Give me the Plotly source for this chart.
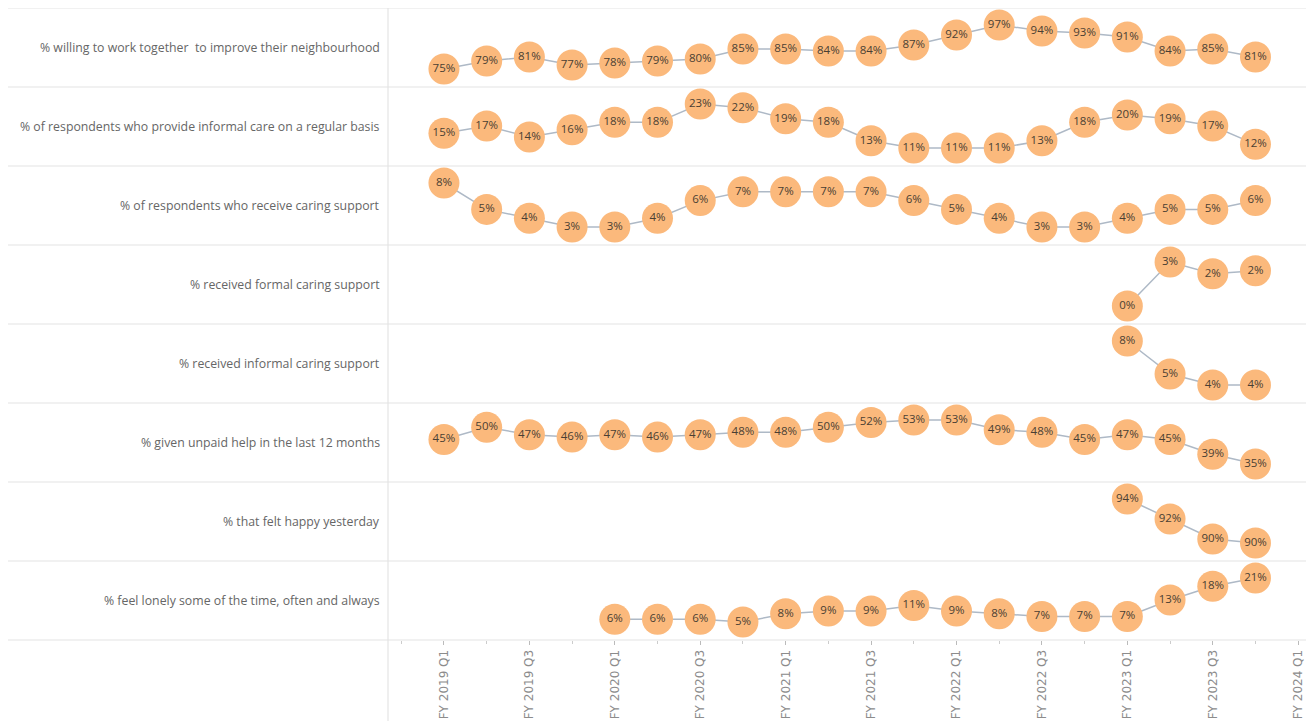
import plotly.graph_objects as go
from plotly.subplots import make_subplots

# ---- data ----
quarters = [f"FY {y} Q{q}" for y in range(2019, 2024) for q in range(1, 5)] + ["FY 2024 Q1"]

measures = [
    "% willing to work together  to improve their neighbourhood",
    "% of respondents who provide informal care on a regular basis",
    "% of respondents who receive caring support",
    "% received formal caring support",
    "% received informal caring support",
    "% given unpaid help in the last 12 months",
    "% that felt happy yesterday",
    "% feel lonely some of the time, often and always",
]

willing_work = [75, 79, 81, 77, 78, 79, 80, 85, 85, 84, 84, 87, 92, 97, 94, 93, 91, 84, 85, 81]
provide_care = [15, 17, 14, 16, 18, 18, 23, 22, 19, 18, 13, 11, 11, 11, 13, 18, 20, 19, 17, 12]
receive_support = [8, 5, 4, 3, 3, 4, 6, 7, 7, 7, 7, 6, 5, 4, 3, 3, 4, 5, 5, 6]
formal_support = [0, 3, 2.2, 2.4]
informal_support = [8, 5, 4, 4]
unpaid_help = [45, 50, 47, 46, 47, 46, 47, 48, 48, 50, 52, 53, 53, 49, 48, 45, 47, 45, 39, 35]
happy = [94, 92, 90, 89.6]
lonely = [6, 6, 6, 5, 8, 9, 9, 11, 9, 8, 7, 7, 7, 13, 18, 21]

series_values = [willing_work, provide_care, receive_support, formal_support,
                 informal_support, unpaid_help, happy, lonely]
# each series ends at FY 2023 Q4
end_index = quarters.index("FY 2023 Q4")

tick_labels = [q for q in quarters if q.endswith("Q1") or q.endswith("Q3")]

# ---- figure ----
W, H = 1306, 713
n = len(measures)
fig = make_subplots(rows=n, cols=1, shared_xaxes=True, vertical_spacing=0)

MARKER = "#FBB97C"
LINE = "#AEB9C6"
FONT = "Open Sans, Lato, sans-serif"

for i, (name, vals) in enumerate(zip(measures, series_values), start=1):
    start = end_index - len(vals) + 1
    xs = list(range(start, end_index + 1))
    fig.add_trace(go.Scatter(
        x=xs, y=vals, mode="lines+markers+text",
        text=[f"{round(v):.0f}%" for v in vals],
        textposition="middle center",
        textfont=dict(family=FONT, size=11.5, color="#4a3f33"),
        line=dict(color=LINE, width=1.5),
        marker=dict(size=31, color=MARKER, line=dict(width=0)),
        showlegend=False, cliponaxis=False, hoverinfo="skip",
    ), row=i, col=1)
    lo, hi = min(vals), max(vals)
    span = hi - lo if hi > lo else 1
    fig.update_yaxes(range=[lo - span * 18 / 44, hi + span * 17 / 44],
                     showticklabels=False, showgrid=False, zeroline=False,
                     showline=False, row=i, col=1)

plot_top, plot_bottom = 0, 632
x_left = 380 / W
tickvals = [quarters.index(t) for t in tick_labels]
minor_vals = sorted(set([v - 1 for v in tickvals] + [tickvals[-1] - 1]))
fig.update_xaxes(range=[-1.31, 20.37], domain=[x_left, 1], showgrid=False,
                 zeroline=False, showline=False)
fig.update_xaxes(tickmode="array", tickvals=tickvals, ticktext=tick_labels,
                 tickangle=-90, ticks="outside", ticklen=4, tickcolor="#bbbbbb",
                 tickfont=dict(family="DejaVu Sans, sans-serif", size=12, color="#8c8c8c"),
                 minor=dict(tickmode="array", tickvals=minor_vals,
                            ticks="outside", ticklen=3, tickcolor="#cccccc"),
                 row=n, col=1)

# row labels and separators
plot_h = plot_bottom - plot_top
shapes = []
annotations = []
for i, name in enumerate(measures):
    top = 1 - i / n
    bottom = 1 - (i + 1) / n
    annotations.append(dict(x=374 / W, y=(top + bottom) / 2, xref="paper", yref="paper",
                            text=name, showarrow=False, xanchor="right", yanchor="middle",
                            font=dict(family=FONT, size=12.3, color="#666666")))
for i in range(n + 1):
    y = 1 - i / n
    shapes.append(dict(type="line", xref="paper", yref="paper", x0=0, x1=1,
                       y0=y, y1=y, line=dict(color="#e4e4e4", width=1.2), layer="below"))
shapes.append(dict(type="line", xref="paper", yref="paper", x0=x_left, x1=x_left,
                   y0=-(H - plot_bottom) / plot_h, y1=1,
                   line=dict(color="#e4e4e4", width=1.2), layer="below"))

fig.update_layout(
    width=W, height=H,
    margin=dict(l=0, r=0, t=plot_top, b=H - plot_bottom),
    paper_bgcolor="white", plot_bgcolor="white",
    shapes=shapes, annotations=annotations,
)

fig.write_html("out.html")
